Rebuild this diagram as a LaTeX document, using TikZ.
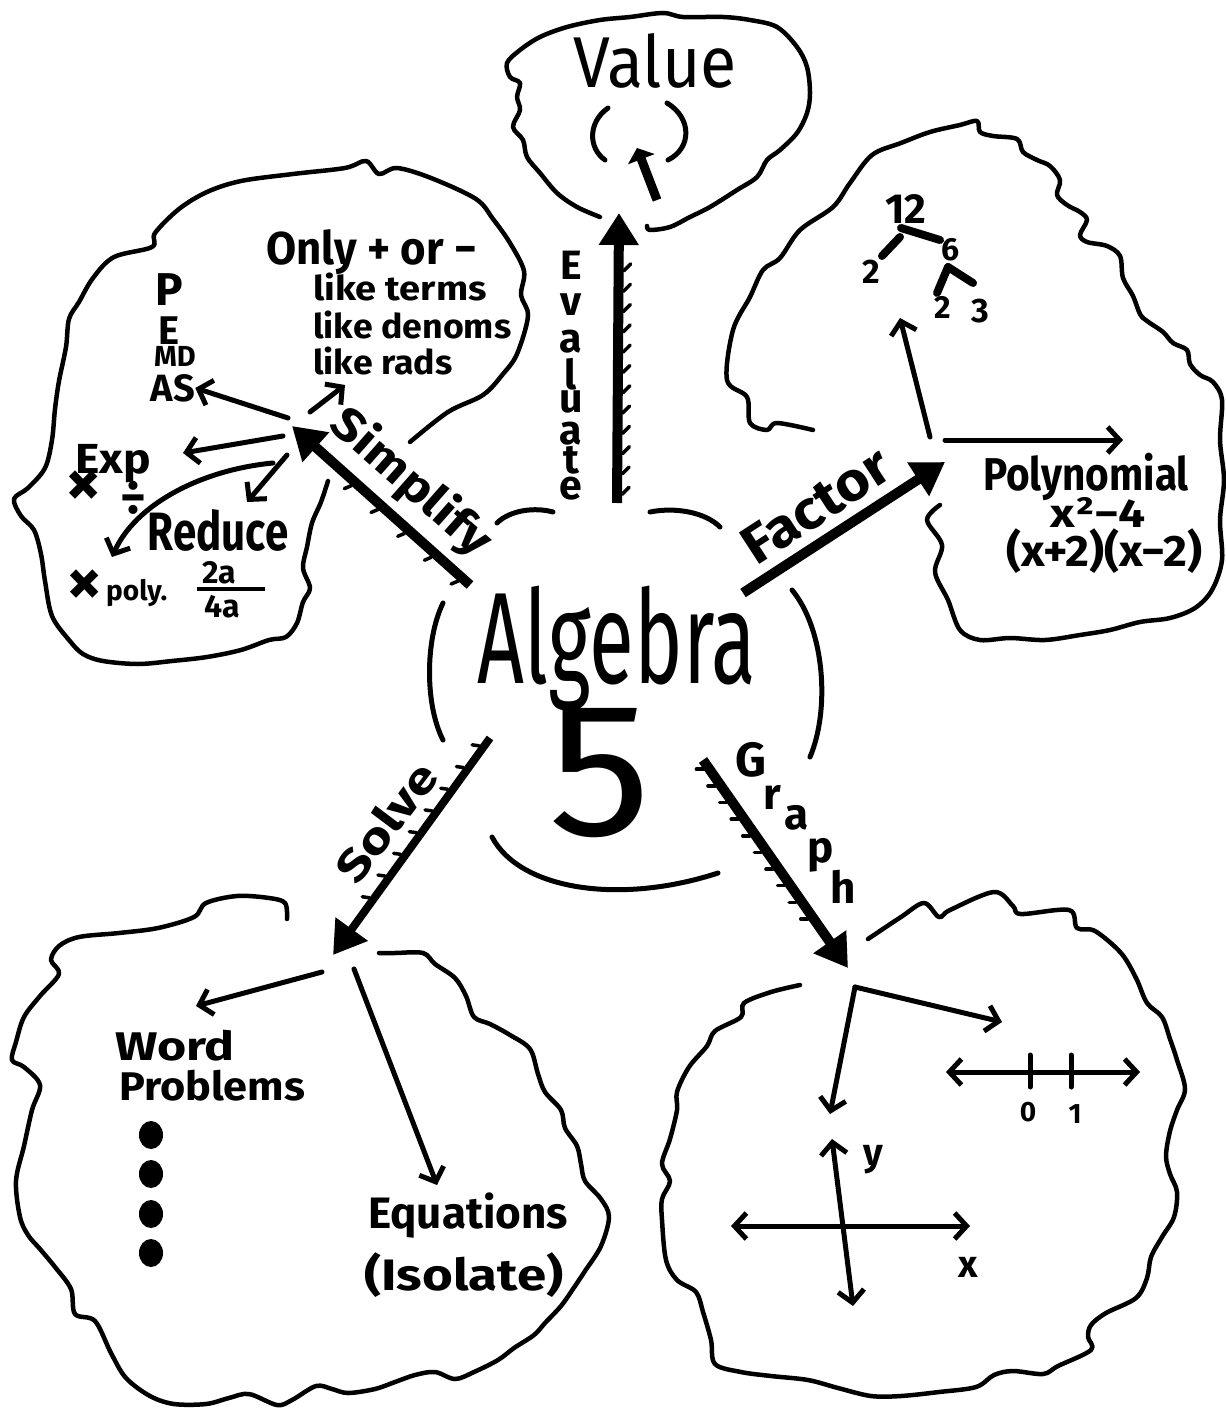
\documentclass[tikz,border=0pt]{standalone}
\usepackage{fontspec}
\usepackage{graphicx}
\setmainfont{Fira Sans}
\usetikzlibrary{arrows.meta,calc}
\newcommand{\hw}[3]{\scalebox{#1}[1]{\fontsize{#2}{#2}\selectfont #3}}
\begin{document}
\begin{tikzpicture}[x=1pt,y=-1pt,
  cl/.style={line width=4.5pt,line cap=round,line join=round},
  pen/.style={line width=5pt,line cap=round,line join=round},
  tree/.style={line width=8pt,line cap=round},
  tick/.style={line width=3.5pt,line cap=round},
  shaft/.style={line width=10pt},
  bigtip/.style={-{Triangle[length=32pt,width=38pt]}},
  barb/.style={pen,-{Straight Barb[length=12pt,width=26pt]}},
  barbs/.style={pen,{Straight Barb[length=12pt,width=26pt]}-{Straight Barb[length=12pt,width=26pt]}},
  lab/.style={inner sep=0pt},
  labb/.style={inner sep=0pt,font=\bfseries},
]
\fill[white] (0,0) rectangle (1225,1420);
\useasboundingbox (0,0) rectangle (1225,1420);

% ---------- centre ----------
\node[lab,anchor=base] (alg) at (617,683) {\hw{0.63}{130}{Algebra}};
\node[lab,anchor=base] (five) at (600,835) {\hw{1.08}{190}{5}};
\draw[pen] (443,603) .. controls (425,640) and (425,705) .. (443,740);
\draw[pen] (792,590) .. controls (825,630) and (830,710) .. (810,757);
\draw[pen] (497,523) .. controls (510,510) and (535,507) .. (553,512);
\draw[pen] (650,512) .. controls (675,507) and (705,512) .. (720,527);
\draw[pen] (492,837) .. controls (520,890) and (620,905) .. (718,873);

% ---------- named end points of the main arrows ----------
\coordinate (evT) at (617,503);  \coordinate (evH) at (619,213);
\coordinate (siT) at (470,585);  \coordinate (siH) at (292,426);
\coordinate (faT) at (743,593);  \coordinate (faH) at (945,462);
\coordinate (soT) at (490,738);  \coordinate (soH) at (333,955);
\coordinate (grT) at (703,760);  \coordinate (grH) at (848,968);

\draw[shaft,bigtip] (evT) -- (evH);
\foreach \t in {0.03,0.10,...,0.85}
  {\draw[tick] ($(evT)!\t!(evH)$) ++(5,0) -- ++(7,-7);}
\draw[shaft,bigtip] (siT) -- (siH);
\foreach \t in {0.05,0.2,0.35,0.5,0.65}
  {\draw[tick] ($(siT)!\t!(siH)$) ++(-3,4) -- ++(-7,3);}
\draw[shaft,bigtip] (faT) -- (faH);
\draw[shaft,line width=8pt,bigtip] (soT) -- (soH);
\foreach \t in {0.05,0.15,...,0.75}
  {\draw[tick] ($(soT)!\t!(soH)$) ++(-3,-3) -- ++(-7,-1);}
\draw[shaft,bigtip] (grT) -- (grH);
\foreach \t in {0.03,0.11,...,0.8}
  {\draw[tick] ($(grT)!\t!(grH)$) ++(-4,3) -- ++(-7,0);}

% ---------- arrow labels ----------
\foreach \ch/\yy [count=\i] in {E/265,v/305,a/342,l/374,u/402,a/434,t/460,e/489}
  {\node[labb] (ev\i) at (571,\yy) {\hw{1}{41}{\ch}};}
\node[labb,rotate=-41.4] (simp) at (411,483) {\hw{1.15}{46}{Simplify}};
\node[labb,rotate=33] (fact) at (816,506) {\hw{1.1}{54}{Factor}};
\node[labb,rotate=53] (solv) at (386,822) {\hw{1.25}{44}{Solve}};
\node[labb] (g1) at (751,760) {\hw{1}{48}{G}};
\node[labb] (g2) at (772,797) {\hw{1}{44}{r}};
\node[labb] (g3) at (797,818) {\hw{1}{44}{a}};
\node[labb] (g4) at (821,855) {\hw{1}{44}{p}};
\node[labb] (g5) at (843,887) {\hw{1}{44}{h}};

% ---------- Value cloud ----------
\draw[cl] plot[smooth,tension=0.55] coordinates {(600,217) (577,207) (557,193) (540,173) (527,157) (523,140) (513,127) (520,110) (517,97) (520,83) (510,77) (507,63) (520,50) (540,37) (567,27) (600,20) (630,17) (663,13) (683,17) (723,17) (750,20) (777,27) (797,47) (807,67) (810,93) (807,113) (797,133) (780,150) (767,160) (757,177) (737,190) (710,207) (690,217) (670,227) (650,230) (647,226)};
\node[lab,anchor=base] (value) at (655,88) {\hw{0.92}{72}{Value}};
\draw[pen] (608,108) .. controls (588,122) and (588,148) .. (605,160);
\draw[pen] (667,103) .. controls (692,118) and (692,148) .. (668,160);
\coordinate (vaT) at (657,200); \coordinate (vaH) at (637,148);
\draw[line width=9pt,-{Triangle[length=12pt,width=28pt]}] (vaT) -- (vaH);

% ---------- Simplify cloud ----------
\draw[cl] plot[smooth,tension=0.55] coordinates {(410,442) (448,412) (483,395) (503,374) (517,354) (528,316) (521,295) (524,271) (510,243) (493,219) (476,199) (431,178) (397,168) (379,174) (366,161) (345,168) (293,174) (241,181) (207,192) (179,209) (155,233) (152,247) (114,257) (93,278) (79,302) (69,319) (66,347) (59,381) (55,409) (52,440) (45,468) (28,488) (14,499) (21,516) (34,530) (41,554) (45,581) (52,616) (69,640) (83,654) (103,661) (138,664) (172,661) (207,657) (241,650) (269,640) (286,637) (297,623) (303,602) (310,588) (303,568) (307,547) (312,523) (321,502) (328,481)};
\node[labb,anchor=base west] (only) at (266,265) {\hw{0.95}{46}{Only + or −}};
\node[labb,anchor=base west] (lt) at (313,301) {\hw{1.12}{34}{like terms}};
\node[labb,anchor=base west] (ld) at (313,338) {\hw{1.05}{34}{like denoms}};
\node[labb,anchor=base west] (lr) at (313,374) {\hw{1.05}{34}{like rads}};
\node[labb] (pP) at (169,290) {\hw{1}{46}{P}};
\node[labb] (pE) at (169,331) {\hw{1}{40}{E}};
\node[labb] (pMD) at (175,356) {\hw{1}{29}{MD}};
\node[labb] (pAS) at (173,388) {\hw{1}{38}{AS}};
\node[labb,anchor=base] (exp) at (113,473) {\hw{1.1}{42}{Exp}};
\node[labb] (tm1) at (84,489) {\hw{1}{70}{×}};
\node[labb] (dv) at (133,498) {\hw{1}{50}{÷}};
\node[labb,anchor=base] (red) at (218,550) {\hw{0.78}{54}{Reduce}};
\node[labb] (tm2) at (85,588) {\hw{1}{70}{×}};
\node[labb,anchor=base west] (poly) at (106,600) {\hw{1}{28}{poly.}};
\node[labb] (n2a) at (219,573) {\hw{1}{32}{2a}};
\node[labb] (d4a) at (222,607) {\hw{1}{32}{4a}};
\draw[line width=4pt] (n2a.south west) ++(-5,4) -- ++(68,0);
\coordinate (sc1) at (288,418); \coordinate (sc2) at (283,436);
\coordinate (sc3) at (287,455); \coordinate (sc4) at (273,463);
\coordinate (sc5) at (310,412);
\draw[barb] (sc1) -- (pAS.east);
\draw[barb] (sc2) -- (183,453);
\draw[barb] (sc3) -- (247,502);
\draw[barb] (sc4) .. controls (200,470) and (135,505) .. (112,557);
\draw[barb] (sc5) -- (345,385);

% ---------- Factor cloud ----------
\draw[cl] plot[smooth,tension=0.55] coordinates {(813,430) (777,423) (767,430) (750,423) (747,397) (727,380) (733,330) (750,297) (763,270) (780,258) (800,230) (833,207) (850,183) (872,155) (901,143) (930,132) (960,125) (977,121) (980,132) (993,136) (1017,139) (1023,152) (1037,160) (1050,166) (1060,180) (1057,195) (1067,205) (1080,212) (1087,220) (1080,235) (1087,242) (1107,246) (1120,256) (1123,278) (1133,296) (1140,314) (1147,321) (1163,332) (1173,343) (1187,350) (1190,364) (1200,375) (1213,382) (1222,400) (1220,440) (1224,480) (1220,520) (1222,560) (1212,590) (1195,608) (1170,618) (1140,622) (1110,630) (1080,635) (1045,640) (1010,638) (980,640) (960,630) (948,600) (935,572) (942,545) (927,520) (940,505)};
\node[labb] (t12) at (906,209) {\hw{1}{42}{12}};
\node[labb] (t2) at (871,272) {\hw{1}{34}{2}};
\node[labb] (t6) at (951,250) {\hw{1}{32}{6}};
\node[labb] (t2b) at (943,307) {\hw{1}{32}{2}};
\node[labb] (t3) at (980,311) {\hw{1}{34}{3}};
\draw[tree] (900,237) -- (882,256);
\draw[tree] (901,228) -- (940,240);
\draw[tree] (948,267) -- (973,283);
\draw[tree] (948,267) -- (937,293);
\node[labb,anchor=base] (pol) at (1086,490) {\hw{0.88}{46}{Polynomial}};
\node[labb,anchor=base] (x24) at (1098,527) {\hw{1.2}{40}{x²−4}};
\node[labb,anchor=base] (fx) at (1104,566) {\hw{1.05}{44}{(x+2)(x−2)}};
\coordinate (fc1) at (930,437); \coordinate (fc2) at (945,440);
\draw[barb] (fc1) -- (900,318);
\draw[barb] (fc2) -- (1123,440);

% ---------- Solve cloud ----------
\draw[cl] plot[smooth,tension=0.55] coordinates {(287,919) (285,903) (269,898) (237,896) (206,903) (194,917) (158,928) (119,933) (79,937) (59,946) (51,960) (59,974) (40,996) (24,1017) (16,1042) (12,1060) (24,1067) (40,1085) (32,1110) (24,1146) (16,1181) (20,1217) (28,1235) (40,1249) (55,1267) (71,1289) (75,1314) (95,1321) (111,1353) (126,1378) (150,1396) (174,1404) (206,1404) (229,1398) (249,1394) (277,1405) (292,1400) (316,1386) (332,1389) (348,1393) (375,1389) (395,1382) (415,1375) (435,1372) (455,1379) (474,1372) (498,1360) (514,1348) (534,1335) (545,1323) (561,1306) (573,1289) (585,1271) (601,1246) (609,1217) (601,1199) (585,1181) (581,1164) (577,1146) (565,1128) (561,1110) (545,1092) (538,1074) (530,1049) (510,1035) (490,1024) (474,1017) (466,996) (455,978) (435,964) (423,953) (395,953) (379,953)};
\node[labb,anchor=base west] (word) at (115,1060) {\hw{1.25}{40}{Word}};
\node[labb,anchor=base west] (prob) at (119,1100) {\hw{1.08}{40}{Problems}};
\foreach \yy [count=\i] in {1135,1174,1214,1253}
  {\fill (151,\yy) ellipse (12 and 14);}
\node[labb,anchor=base west] (eq) at (368,1228) {\hw{1}{44}{Equations}};
\node[labb,anchor=base west] (iso) at (364,1290) {\hw{1.2}{44}{(Isolate)}};
\coordinate (so1) at (322,972); \coordinate (so2) at (354,969);
\draw[barb] (so1) -- (196,1006);
\draw[barb] (so2) -- (437,1185);

% ---------- Graph cloud ----------
\draw[cl] plot[smooth,tension=0.55] coordinates {(868,939) (901,917) (924,903) (939,917) (950,910) (994,892) (1013,906) (1021,914) (1069,910) (1077,928) (1095,931) (1121,953) (1136,978) (1147,1003) (1162,1017) (1170,1039) (1177,1060) (1185,1089) (1177,1110) (1170,1131) (1166,1156) (1170,1174) (1177,1192) (1174,1217) (1162,1237) (1151,1257) (1147,1278) (1136,1298) (1106,1313) (1091,1325) (1088,1337) (1091,1350) (1058,1366) (1043,1374) (1013,1371) (994,1375) (976,1387) (939,1392) (901,1396) (871,1396) (838,1388) (808,1380) (771,1376) (741,1372) (715,1364) (711,1340) (703,1312) (696,1292) (677,1280) (666,1260) (662,1220) (662,1199) (670,1181) (662,1164) (670,1139) (677,1110) (677,1092) (689,1067) (707,1046) (715,1031) (741,1017) (744,1003) (771,992) (800,985)};
\coordinate (gc) at (855,987);
\draw[barb] (gc) -- (1002,1022);
\draw[barb] (gc) -- (830,1114);
\coordinate (nlL) at (946,1072); \coordinate (nlR) at (1140,1072);
\draw[barbs] (nlL) -- (nlR);
\draw[pen] (1030,1055) -- (1030,1087);
\draw[pen] (1071,1055) -- (1071,1087);
\node[labb] (z0) at (1028,1112) {\hw{1}{28}{0}};
\node[labb] (z1) at (1075,1114) {\hw{1}{28}{1}};
\coordinate (yT) at (832,1139); \coordinate (yB) at (853,1306);
\draw[barbs] (yT) -- (yB);
\coordinate (xL) at (731,1226); \coordinate (xR) at (970,1226);
\draw[barbs] (xL) -- (xR);
\node[labb] (ylab) at (873,1160) {\hw{1}{38}{y}};
\node[labb] (xlab) at (968,1267) {\hw{1}{38}{x}};
\end{tikzpicture}
\end{document}
